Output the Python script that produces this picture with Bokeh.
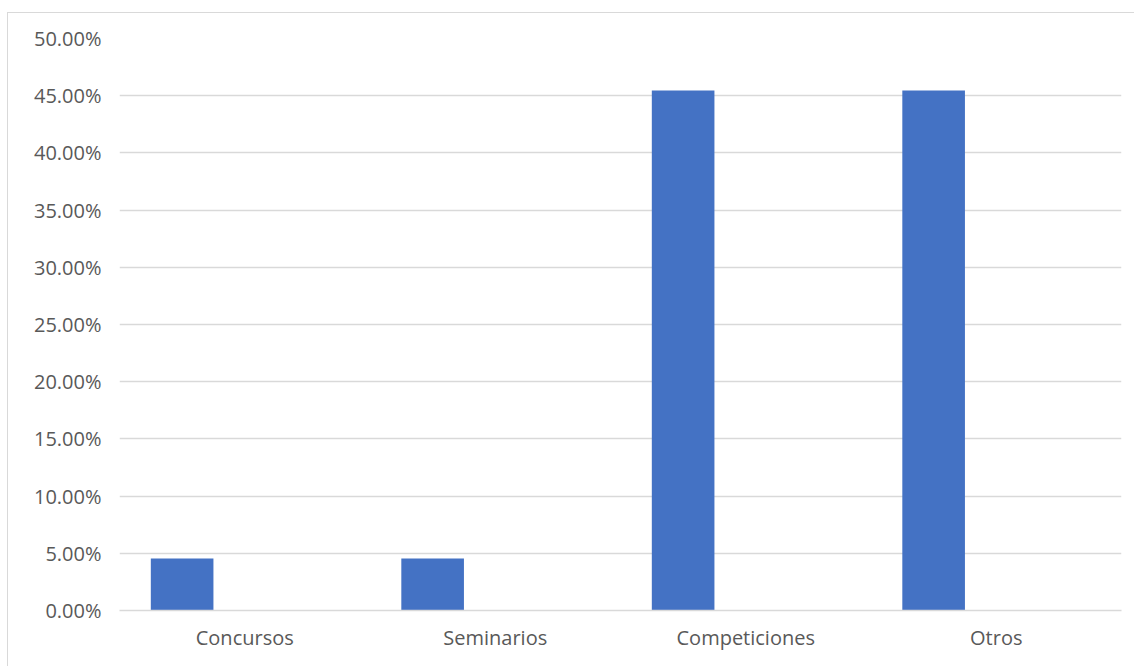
from bokeh.plotting import figure
from bokeh.models import FactorRange, Range1d, NumeralTickFormatter, SingleIntervalTicker, ColumnDataSource
from bokeh.transform import dodge
from bokeh.embed import file_html
from bokeh.resources import INLINE

# Share of activities by type
categories = ["Concursos", "Seminarios", "Competiciones", "Otros"]
shares = [0.04545, 0.04545, 0.45455, 0.45455]

FONT = "Open Sans"
TEXT = "#595959"
GRID = "#d9d9d9"
BAR = "#4472C4"

src = ColumnDataSource(dict(cat=categories, val=shares))

p = figure(
    x_range=FactorRange(*categories),
    y_range=Range1d(0, 0.5),
    width=1127, height=654,
    output_backend="svg", toolbar_location=None,
    min_border_left=111, min_border_right=14,
    min_border_top=25, min_border_bottom=57,
)
p.margin = (12, 0, 0, 7)
p.styles = {"border-top": f"1px solid {GRID}", "border-left": f"1px solid {GRID}"}
p.outline_line_color = None
p.background_fill_color = "white"
p.border_fill_color = "white"

# first of three clustered slots in each category
p.vbar(x=dodge("cat", -0.25, range=p.x_range), top="val", width=0.25,
       source=src, fill_color=BAR, line_color=None)

p.yaxis.ticker = SingleIntervalTicker(interval=0.05)
p.yaxis.formatter = NumeralTickFormatter(format="0.00%")
p.yaxis.axis_line_color = None
p.yaxis.major_tick_line_color = None
p.yaxis.minor_tick_line_color = None
p.yaxis.major_label_text_align = "left"
p.yaxis.major_label_standoff = 12

p.xaxis.axis_line_color = GRID
p.xaxis.axis_line_width = 1.5
p.xaxis.major_tick_line_color = None
p.xaxis.minor_tick_line_color = None
p.xaxis.major_label_standoff = 7

for ax in (p.xaxis, p.yaxis):
    ax.major_label_text_font = FONT
    ax.major_label_text_font_size = "20px"
    ax.major_label_text_color = TEXT

p.xgrid.grid_line_color = None
p.ygrid.grid_line_color = GRID
p.ygrid.grid_line_width = 1.5

open("out.html", "w").write(file_html(p, INLINE))
